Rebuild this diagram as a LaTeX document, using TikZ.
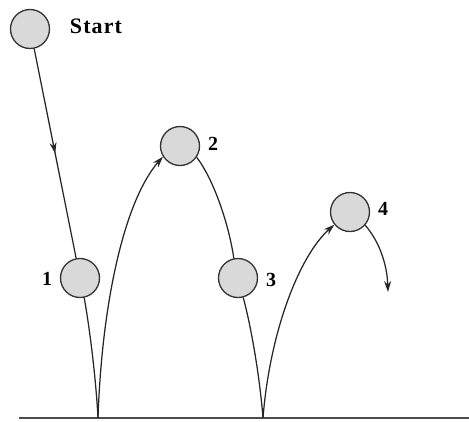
\documentclass[tikz,border=0pt]{standalone}
\usepackage{fontspec}
\setmainfont{Liberation Serif}
\usetikzlibrary{arrows.meta,decorations.markings}
\tikzset{
  ball/.style={circle,draw=black!80,fill=black!15,line width=1.3pt,minimum size=39pt,inner sep=0pt},
  lbl/.style={font=\fontsize{20}{20}\selectfont\bfseries,inner sep=0pt},
  track/.style={draw=black!85,line width=1.25pt},
  tip/.style={-{Stealth[length=11pt,width=7pt]}},
  midtip/.style={postaction={decorate},decoration={markings,
    mark=at position 0.5 with {\arrow{Stealth[length=11pt,width=7pt]}}}}
}
\begin{document}
\begin{tikzpicture}[x=1pt,y=-1pt]
\useasboundingbox (0,0) rectangle (469,421);
% ground
\draw[black!70,line width=2pt] (19,418) -- (469,418);
% balls along the trajectory
\node[ball] (s)  at (30,29)  {};
\node[ball] (b1) at (80,278) {};
\node[ball] (b2) at (180,146) {};
\node[ball] (b3) at (238,278) {};
\node[ball] (b4) at (350,212) {};
% labels
\node[lbl,font=\fontsize{22}{22}\selectfont\bfseries\addfontfeature{LetterSpace=5}] (ls) at (96,26) {Start};
\node[lbl] (l1) at (47,279) {1};
\node[lbl] (l2) at (213,144) {2};
\node[lbl] (l3) at (271,280) {3};
\node[lbl] (l4) at (383,209) {4};
% bounce points and free end
\coordinate (g1) at (98,418);
\coordinate (g2) at (263,418);
\coordinate (e4) at (388,292);
% trajectory
\draw[track,midtip] (s.-78) -- (b1.101);
\draw[track] (b1.-78) .. controls (90,330) and (96,380) .. (g1);
\draw[track,tip] (g1) .. controls (102,300) and (125,200) .. (b2.212);
\draw[track] (b2.-34) .. controls (214,180) and (229,225) .. (b3.102);
\draw[track] (b3.-75) .. controls (252,330) and (260,380) .. (g2);
\draw[track,tip] (g2) .. controls (270,330) and (300,255) .. (b4.219);
\draw[track,tip] (b4.-41) .. controls (378,240) and (387,262) .. (e4);
\end{tikzpicture}
\end{document}
